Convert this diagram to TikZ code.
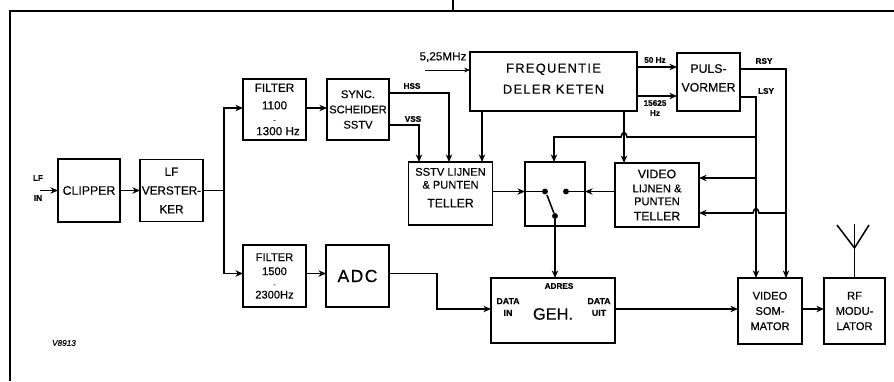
\documentclass[tikz,border=0pt]{standalone}
\usepackage{fontspec}
\setmainfont[FakeBold=0.35]{Liberation Sans}
\usetikzlibrary{calc, positioning}
\usetikzlibrary{arrows.meta}

\tikzset{
  boxsize/.style 2 args={minimum width=#1*0.03cm, minimum height=#2*0.03cm},
  box/.style={draw, line width=1.3pt, inner sep=0pt, outer sep=0pt, align=center,
    font=\fontsize{9.5}{13}\selectfont},
  wire/.style={line width=1.3pt},
  arrow/.style={wire, -{Stealth[length=6.5pt, width=5.5pt]}},
  tag/.style={inner sep=0pt, align=center, font=\fontsize{7}{8.5}\selectfont\bfseries},
  dot/.style={circle, fill=black, inner sep=0pt, minimum size=5pt},
}

\begin{document}
\begin{tikzpicture}[x=0.03cm, y=-0.03cm]
\useasboundingbox (0,0) rectangle (894,381);
% frame
\draw[wire] (894,11) -- (10,11) -- (10,381);
\draw[wire] (453,0) -- (453,11);

% blocks
\node[box, boxsize={62}{63}, font=\fontsize{10.5}{13}\selectfont] (clipper) at (89,190.5) {CLIPPER};
\node[box, boxsize={63}{62}, font=\fontsize{10}{16}\selectfont] (lfamp) at (171.5,190.5) {LF\\VERSTER-\\KER};
\node[box, boxsize={63}{61}, font=\fontsize{10}{15}\selectfont] (filta) at (274.5,109.5) {FILTER\\1100\\[-4pt]{\fontsize{6}{7}\selectfont -}\\[-4pt]\hspace*{6pt}1300 Hz};
\node[box, boxsize={62}{61}] (sync) at (358,109.5) {SYNC.\\SCHEIDER\\SSTV};
\node[box, boxsize={84}{63}] (sstv) at (450.5,193.5) {SSTV LIJNEN\\[-2pt]\& PUNTEN\\[3pt]{\fontsize{10.5}{13}\selectfont TELLER}\\[-3pt]\mbox{}};
\node[box, boxsize={167}{59}, font=\fontsize{11}{18}\addfontfeature{LetterSpace=10}\selectfont] (freq) at (553.5,81.5) {FREQUENTIE\\DELER KETEN\\[-13pt]\mbox{}};
\node[box, boxsize={63}{58}, font=\fontsize{10.5}{16}\selectfont] (puls) at (708.5,82) {PULS-\\VORMER\\[-9pt]\mbox{}};
\node[box, boxsize={60}{64}] (swbox) at (555,194) {};
\node[box, boxsize={84}{64}] (vidt) at (657,195) {{\fontsize{10.5}{13}\selectfont VIDEO}\\[-1pt]LIJNEN \&\\[-2pt]PUNTEN\\[0pt]{\fontsize{10.5}{13}\selectfont TELLER}};
\node[box, boxsize={63}{62}] (filtb) at (274.5,276) {FILTER\\[-1pt]1500\\[-3pt]{\fontsize{6}{7}\selectfont -}\\[-3pt]2300Hz};
\node[box, boxsize={63}{62}, font=\fontsize{15}{18}\addfontfeature{LetterSpace=8}\selectfont] (adc) at (357.5,276) {ADC};
\node[box, boxsize={124}{65}] (mem) at (553,310.5) {};
\node[box, boxsize={64}{66}] (som) at (770,311) {VIDEO\\SOM-\\MATOR};
\node[box, boxsize={61}{66}] (rf) at (854.5,311) {RF\\MODU-\\LATOR};

% labels
\node[tag] (lflab) at (38,178) {LF};
\node[tag] (inlab) at (38,198) {IN};
\node[tag] (hsslab) at (412,86) {HSS};
\node[tag] (vsslab) at (413,119) {VSS};
\node[inner sep=0pt, font=\fontsize{10}{12}\selectfont] (mhzlab) at (443,57) {5,25MHz};
\node[tag] (fiftylab) at (655,60) {50 Hz};
\node[tag] (linelab) at (655,108) {15625\\Hz};
\node[tag] (rsylab) at (764,61) {RSY};
\node[tag] (lsylab) at (766,91) {LSY};
\node[tag, font=\fontsize{7}{8}\selectfont\itshape] (codelab) at (64,343) {V8913};
\node[tag] (adreslab) at (559,286) {ADRES};
\node[tag, font=\fontsize{7.5}{10}\selectfont\bfseries] (dinlab) at (508,307) {DATA\\IN};
\node[tag, font=\fontsize{7.5}{10}\selectfont\bfseries] (doutlab) at (599,307) {DATA\\UIT};
\node[inner sep=0pt, font=\fontsize{14}{16}\selectfont] (gehlab) at (553,314) {GEH.};

% corners and rows
\coordinate (lfin) at (40,190.5);
\coordinate (split) at (224,190.5);
\coordinate (toprow) at (0,108);
\coordinate (lowrow) at (0,273.5);
\coordinate (hss) at (449,93);
\coordinate (vss) at (419,125);
\coordinate (clk) at (482,111);
\coordinate (mhzin) at (425,70);
\coordinate (fifty) at (0,67);
\coordinate (line) at (0,96);
\coordinate (rsy) at (786,69);
\coordinate (lsy) at (756,97);
\coordinate (vclk) at (624,111);
\coordinate (adcbend) at (437,309);
\coordinate (swtop) at (554,137);
\coordinate (hopa) at (627,137);
\coordinate (hopb) at (621,137);
\coordinate (rowb) at (756,178);
\coordinate (rowc) at (786,213);
\coordinate (hopc) at (759,213);
\coordinate (hopd) at (753,213);

% switch
\node[dot] (cta) at (545,191.5) {};
\node[dot] (ctb) at (566,191.5) {};
\node[dot] (ctc) at (555,216) {};
\coordinate (blade) at (547,195);

% left chain
\draw[arrow] (lfin) -- (clipper.west);
\draw[arrow] (clipper.east) -- (lfamp.west);
\draw[wire] (lfamp.east) -- (split);
\draw[arrow] (split) |- (filta.west |- toprow);
\draw[arrow] (split) |- (filtb.west |- lowrow);
\draw[arrow] (filta.east |- toprow) -- (sync.west |- toprow);
\draw[arrow] (filtb.east |- lowrow) -- (adc.west |- lowrow);

% sstv counter
\draw[arrow] (sync.east |- hss) -- (hss) -- (sstv.north -| hss);
\draw[arrow] (sync.east |- vss) -- (vss) -- (sstv.north -| vss);
\draw[arrow] (clk) -- (sstv.north -| clk);
\draw[-{Stealth[length=5pt, width=4pt]}, line width=0.6pt] (mhzin) -- (freq.west |- mhzin);

% pulses
\draw[arrow] (freq.east |- fifty) -- (puls.west |- fifty);
\draw[arrow] (freq.east |- line) -- (puls.west |- line);
\draw[arrow] (puls.east |- rsy) -- (rsy) -- (som.north -| rsy);
\draw[arrow] (puls.east |- lsy) -- (lsy) -- (som.north -| lsy);
\draw[arrow] (vclk) -- (vidt.north -| vclk);
\draw[arrow] (lsy |- swtop) -- (hopa) .. controls (626,131) and (622,131) .. (hopb) -- (swtop) -- (swbox.north -| swtop);
\draw[arrow] (rowb) -- (vidt.east |- rowb);
\draw[arrow] (rowc) -- (hopc) .. controls (758,207) and (754,207) .. (hopd) -- (vidt.east |- rowc);

% switch wiring
\draw[arrow] (sstv.east |- cta) -- (swbox.west |- cta);
\draw[wire] (swbox.west |- cta) -- (cta);
\draw[arrow] (vidt.west |- ctb) -- (swbox.east |- ctb);
\draw[wire] (swbox.east |- ctb) -- (ctb);
\draw[wire] (blade) -- (ctc);
\draw[arrow] (ctc) -- (mem.north -| ctc);

% data path
\draw[arrow] (adc.east |- lowrow) -- (lowrow -| adcbend) -- (adcbend) -- (mem.west |- adcbend);
\draw[arrow] (mem.east |- adcbend) -- (som.west |- adcbend);
\draw[arrow] (som.east |- adcbend) -- (rf.west |- adcbend);

% antenna
\coordinate (fork) at (854.5,248);
\draw[wire] (rf.north) -- (fork);
\draw[line width=0.7pt] (fork) -- (854.5,224);
\draw[wire] (837,225) -- (fork) -- (869,225);
\end{tikzpicture}
\end{document}
